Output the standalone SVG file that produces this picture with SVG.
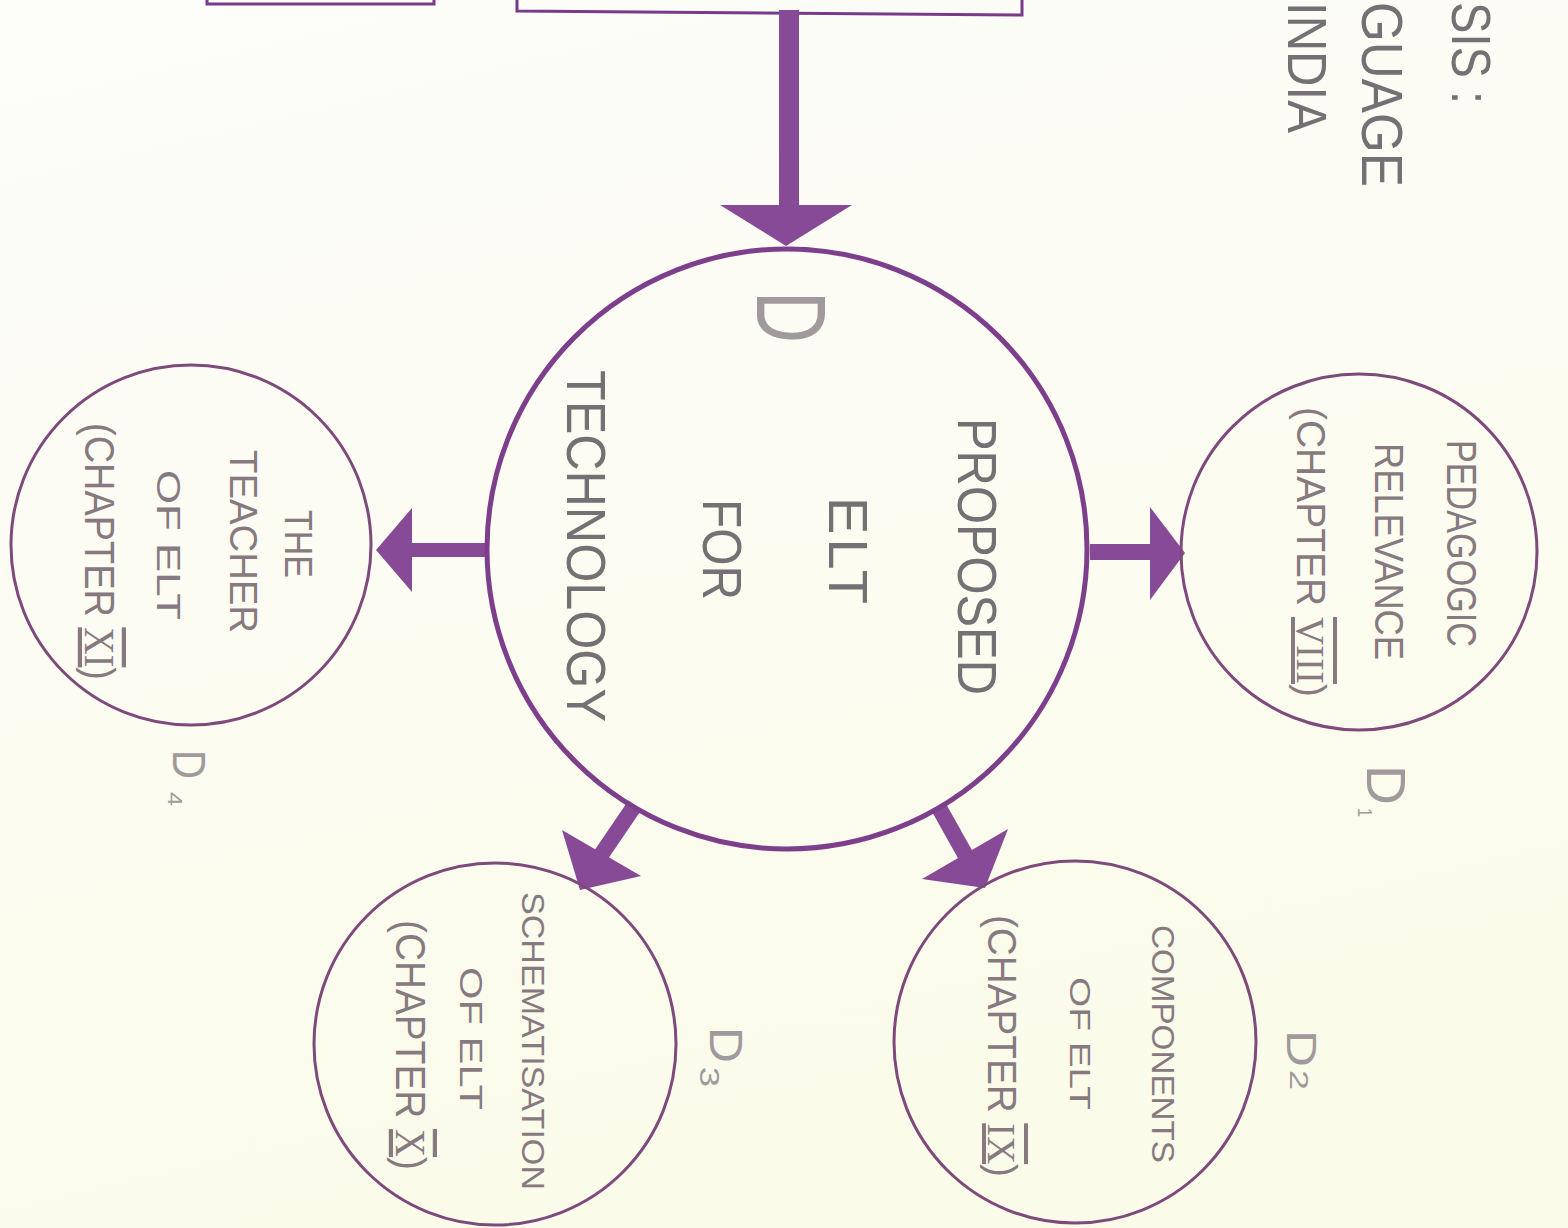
<svg xmlns="http://www.w3.org/2000/svg" width="1568" height="1228" viewBox="0 0 1568 1228">
<defs>
<linearGradient id="bg" x1="0" y1="0" x2="0.3" y2="1">
<stop offset="0" stop-color="#fdfdfa"/>
<stop offset="1" stop-color="#fbfbea"/>
</linearGradient>
</defs>
<style>
.t{font-family:"Liberation Sans","DejaVu Sans",sans-serif;fill:#747074;}
.s{fill:#867a80;}
.lbl{fill:#a09a9c;}
.rn{font-family:"Liberation Serif",serif;text-decoration:underline overline;}
.big{fill:none;stroke:#7d3f8c;stroke-width:5;}
.sm{fill:none;stroke:#7e4a7c;stroke-width:3;}
.box{fill:none;stroke:#7a3a8a;stroke-width:3;}
.shaft{stroke:#874a97;fill:none;}
.head{fill:#874a97;}
</style>
<rect x="0" y="0" width="1568" height="1228" fill="url(#bg)"/>

<g id="top-boxes">
<path class="box" d="M207,-20 V4 H434 V-20"/>
<path class="box" d="M517,-20 V11 L1022,15 V-20"/>
</g>

<g id="top-text">
<text class="t" transform="translate(1452,2) rotate(90)" font-size="56" textLength="102" lengthAdjust="spacingAndGlyphs">SIS :</text>
<text class="t" transform="translate(1362,2) rotate(90)" font-size="57" textLength="185" lengthAdjust="spacingAndGlyphs">GUAGE</text>
<text class="t" transform="translate(1288,2) rotate(90)" font-size="56" textLength="131" lengthAdjust="spacingAndGlyphs">INDIA</text>
</g>

<g id="connectors">
<line class="shaft" x1="789" y1="10" x2="789" y2="208" stroke-width="20"/>
<polygon class="head" points="720,205 852,205 786,246"/>
<line class="shaft" x1="1090" y1="552" x2="1152" y2="552" stroke-width="16"/>
<polygon class="head" points="1150,507 1150,600 1185,553"/>
<line class="shaft" x1="486" y1="550" x2="408" y2="550" stroke-width="14"/>
<polygon class="head" points="412,508 412,592 376,550"/>
<line class="shaft" x1="938" y1="806" x2="966" y2="856" stroke-width="16"/>
<polygon class="head" points="1008,829 922,879 985,888"/>
<line class="shaft" x1="635" y1="805" x2="601" y2="855" stroke-width="16"/>
<polygon class="head" points="641,876 562,830 580,890"/>
</g>

<g id="node-D">
<circle class="big" cx="787" cy="549" r="300"/>
<text class="t lbl" transform="translate(757,291) rotate(90)" font-size="99" textLength="52" lengthAdjust="spacingAndGlyphs">D</text>
<text class="t" transform="translate(958,418) rotate(90)" font-size="56" textLength="277" lengthAdjust="spacingAndGlyphs">PROPOSED</text>
<text class="t" transform="translate(829,497) rotate(90)" font-size="56" textLength="107" lengthAdjust="spacing">ELT</text>
<text class="t" transform="translate(703,499) rotate(90)" font-size="56" textLength="101" lengthAdjust="spacingAndGlyphs">FOR</text>
<text class="t" transform="translate(567,370) rotate(90)" font-size="55" textLength="352" lengthAdjust="spacingAndGlyphs">TECHNOLOGY</text>
</g>

<g id="node-D1">
<circle class="sm" cx="1359" cy="552" r="178"/>
<text class="t s" transform="translate(1447,440) rotate(90)" font-size="42" textLength="207" lengthAdjust="spacingAndGlyphs">PEDAGOGIC</text>
<text class="t s" transform="translate(1375,443) rotate(90)" font-size="40" textLength="217" lengthAdjust="spacingAndGlyphs">RELEVANCE</text>
<text class="t s" transform="translate(1297,407) rotate(90)" font-size="40" textLength="290" lengthAdjust="spacingAndGlyphs">(CHAPTER <tspan class="rn">VIII</tspan>)</text>
<text class="t lbl" transform="translate(1367,765) rotate(90)" font-size="55" textLength="40" lengthAdjust="spacingAndGlyphs">D</text>
<text class="t lbl" transform="translate(1358,808) rotate(90)" font-size="20" textLength="9" lengthAdjust="spacingAndGlyphs">1</text>
</g>

<g id="node-D2">
<circle class="sm" cx="1075" cy="1042" r="181"/>
<text class="t s" transform="translate(1152,925) rotate(90)" font-size="32" textLength="238" lengthAdjust="spacingAndGlyphs">COMPONENTS</text>
<text class="t s" transform="translate(1070,977) rotate(90)" font-size="30" textLength="133" lengthAdjust="spacingAndGlyphs">OF ELT</text>
<text class="t s" transform="translate(988,915) rotate(90)" font-size="40" textLength="262" lengthAdjust="spacingAndGlyphs">(CHAPTER <tspan class="rn">IX</tspan>)</text>
<text class="t lbl" transform="translate(1287,1030) rotate(90)" font-size="42" textLength="37" lengthAdjust="spacingAndGlyphs">D</text>
<text class="t lbl" transform="translate(1290,1070) rotate(90)" font-size="26" textLength="20" lengthAdjust="spacingAndGlyphs">2</text>
</g>

<g id="node-D3">
<circle class="sm" cx="495" cy="1044" r="181"/>
<text class="t s" transform="translate(522,892) rotate(90)" font-size="32" textLength="298" lengthAdjust="spacingAndGlyphs">SCHEMATISATION</text>
<text class="t s" transform="translate(460,967) rotate(90)" font-size="32" textLength="143" lengthAdjust="spacingAndGlyphs">OF ELT</text>
<text class="t s" transform="translate(396,920) rotate(90)" font-size="42" textLength="250" lengthAdjust="spacingAndGlyphs">(CHAPTER <tspan class="rn">X</tspan>)</text>
<text class="t lbl" transform="translate(710,1027) rotate(90)" font-size="46" textLength="36" lengthAdjust="spacingAndGlyphs">D</text>
<text class="t lbl" transform="translate(700,1067) rotate(90)" font-size="28" textLength="20" lengthAdjust="spacingAndGlyphs">3</text>
</g>

<g id="node-D4">
<circle class="sm" cx="191" cy="545" r="180"/>
<text class="t s" transform="translate(285,510) rotate(90)" font-size="38" textLength="68" lengthAdjust="spacingAndGlyphs">THE</text>
<text class="t s" transform="translate(230,450) rotate(90)" font-size="38" textLength="183" lengthAdjust="spacingAndGlyphs">TEACHER</text>
<text class="t s" transform="translate(157,470) rotate(90)" font-size="34" textLength="150" lengthAdjust="spacingAndGlyphs">OF ELT</text>
<text class="t s" transform="translate(85,423) rotate(90)" font-size="42" textLength="257" lengthAdjust="spacingAndGlyphs">(CHAPTER <tspan class="rn">XI</tspan>)</text>
<text class="t lbl" transform="translate(173,750) rotate(90)" font-size="47" textLength="29" lengthAdjust="spacingAndGlyphs">D</text>
<text class="t lbl" transform="translate(168,792) rotate(90)" font-size="20" textLength="14" lengthAdjust="spacingAndGlyphs">4</text>
</g>
</svg>
